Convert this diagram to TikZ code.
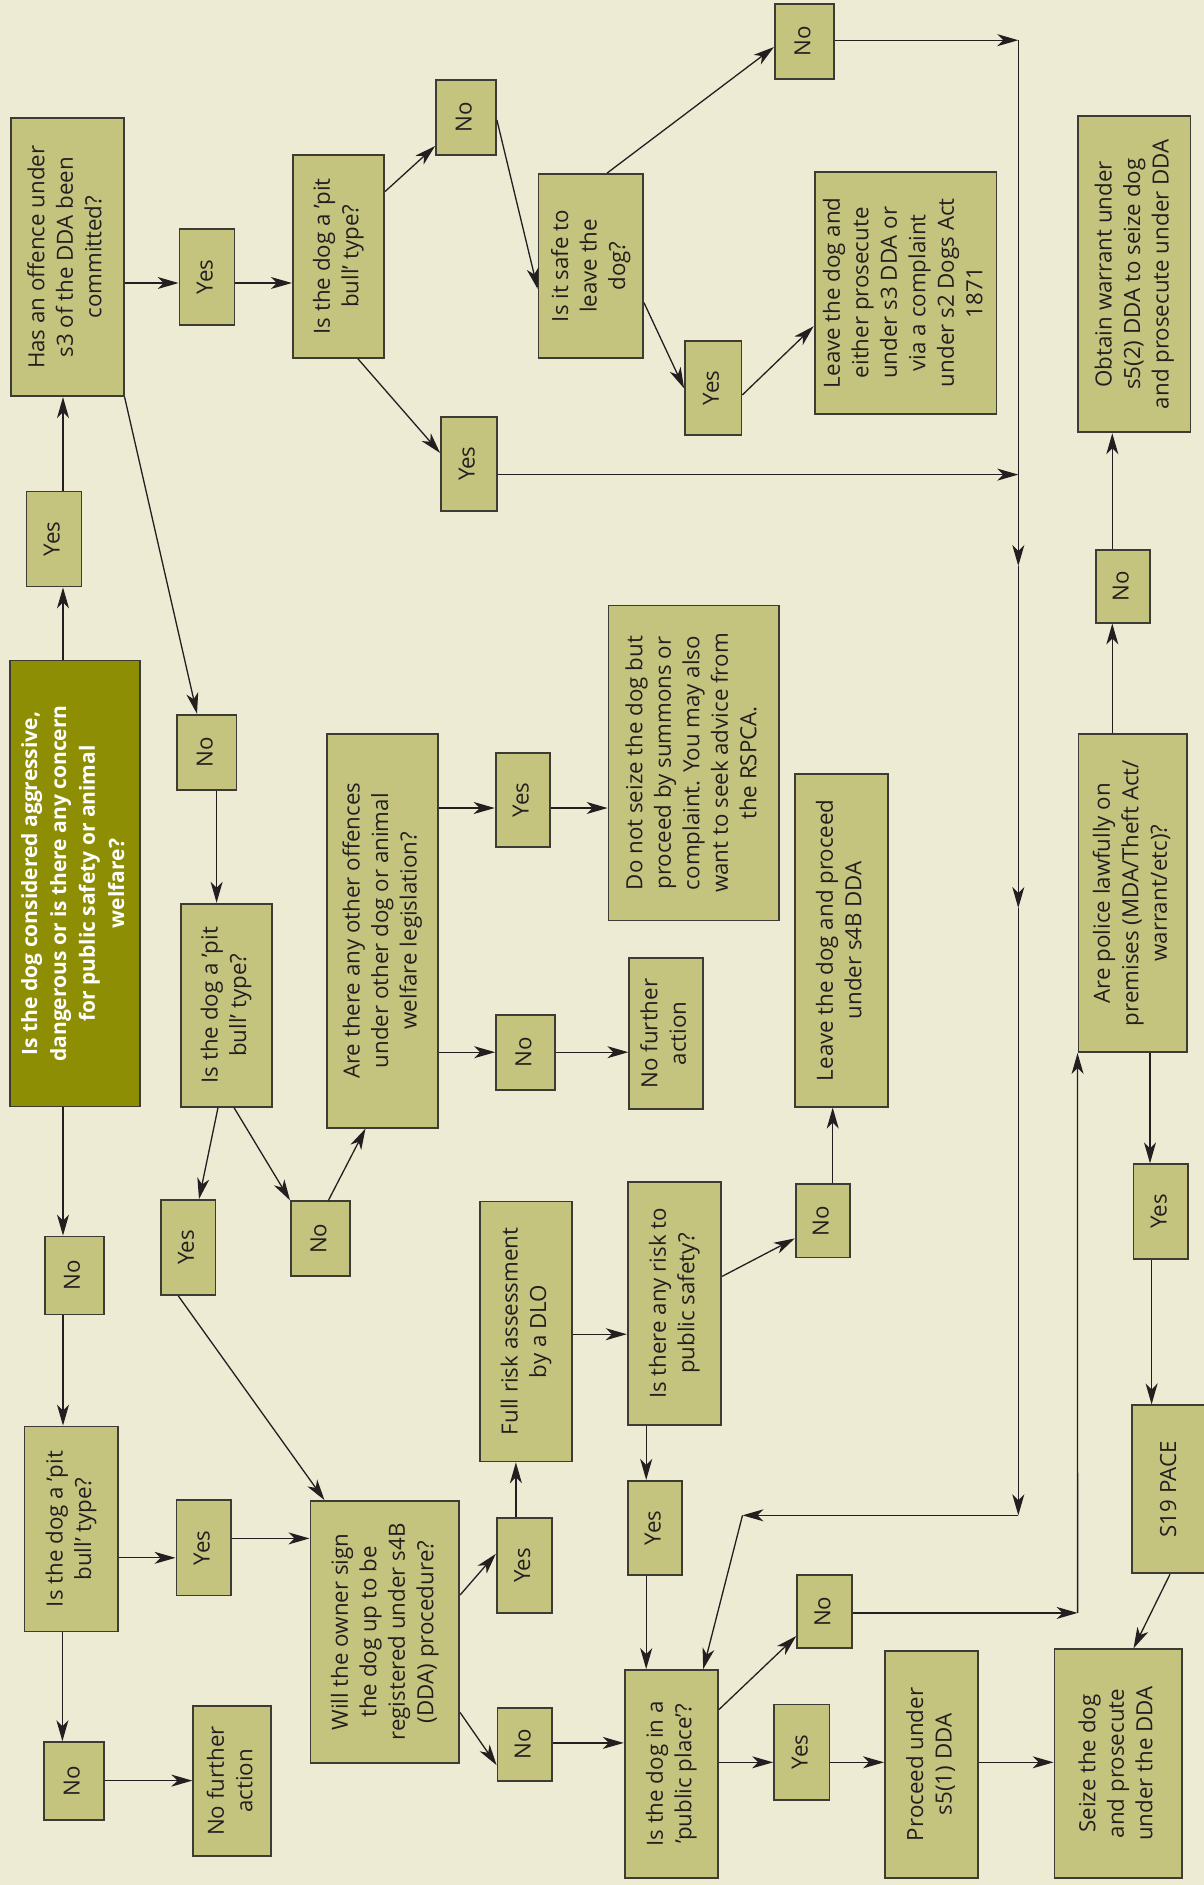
\documentclass[tikz,border=0pt]{standalone}
\usepackage{fontspec}
\setmainfont{Open Sans}
\usepackage{graphicx}
\usetikzlibrary{arrows.meta}
\definecolor{bg}{HTML}{EDEBD4}
\definecolor{boxfill}{HTML}{C5C47E}
\definecolor{mainfill}{HTML}{8E8E05}
\definecolor{edge}{HTML}{3C3C34}
\definecolor{ink}{HTML}{231F20}
\newcommand\rt[1]{\rotatebox{90}{\begin{tabular}{@{}c@{}}#1\end{tabular}}}
\begin{document}
\begin{tikzpicture}[x=1pt,y=-1pt,
  box/.style={draw=edge, line width=1.8pt, fill=boxfill, inner sep=0pt, text=ink,
              font=\fontsize{22.3}{28.5}\selectfont},
  mainbox/.style={box, fill=mainfill, text=white, font=\bfseries\fontsize{21}{29}\selectfont},
  sz/.style 2 args={minimum width=#1pt, minimum height=#2pt},
  arr/.style={draw=ink, line width=1.3pt, -{Stealth[length=21pt,width=12pt,inset=6pt]}}]
\fill[bg] (0,0) rectangle (1204,1885);
\useasboundingbox (0,0) rectangle (1204,1885);

% ---------- nodes ----------
\node[mainbox, sz={130}{446}] (main) at (74.7,883.5) {\rt{Is the dog considered aggressive,\\dangerous or is there any concern\\for public safety or animal\\welfare?}};
\node[box, sz={55}{95}] (yes0) at (54,539) {\rt{Yes}};
\node[box, sz={113}{278}] (offence) at (67.2,257.2) {\rt{Has an offence under\\s3 of the DDA been\\committed?}};
\node[box, sz={55}{96}] (yes1) at (207,277.1) {\rt{Yes}};
\node[box, sz={91.4}{202.7}] (pb1) at (338.5,256.4) {\rt{Is the dog a ’pit\\bull’ type?}};
\node[box, sz={60}{75}] (no1) at (466,117.1) {\rt{No}};
\node[box, sz={56}{94}] (yes2) at (469,463.7) {\rt{Yes}};
\node[box, sz={104.5}{183.7}] (safe) at (590.8,265.9) {\rt{Is it safe to\\leave the\\dog?}};
\node[box, sz={59.3}{75}] (no3) at (804.6,41.3) {\rt{No}};
\node[box, sz={56.4}{94}] (yes3) at (713.2,387.8) {\rt{Yes}};
\node[box, sz={181.8}{242}] (leave1) at (905.5,292.7) {\rt{Leave the dog and\\either prosecute\\under s3 DDA or\\via a complaint\\under s2 Dogs Act\\1871}};
\node[box, sz={112.5}{316.3}] (obtain) at (1134.3,274.2) {\rt{Obtain warrant under\\s5(2) DDA to seize dog\\and prosecute under DDA}};
\node[box, sz={54.3}{73}] (no4) at (1122.9,586.1) {\rt{No}};
\node[box, sz={59.3}{75.5}] (no2) at (206.9,752.5) {\rt{No}};
\node[box, sz={91}{203}] (pb2) at (226.2,1005.2) {\rt{Is the dog a ’pit\\bull’ type?}};
\node[box, sz={111.4}{393.7}] (other) at (382.5,930.8) {\rt{Are there any other offences\\under other dog or animal\\welfare legislation?}};
\node[box, sz={54.7}{94.6}] (yes5) at (523,800) {\rt{Yes}};
\node[box, sz={59.3}{75}] (no5) at (525.7,1052.2) {\rt{No}};
\node[box, sz={170.2}{315}] (donot) at (693.6,763) {\rt{Do not seize the dog but\\proceed by summons or\\complaint. You may also\\want to seek advice from\\the RSPCA.}};
\node[box, sz={73.5}{151}] (nfa1) at (666,1033.5) {\rt{No further\\action}};
\node[box, sz={92.7}{333}] (leave2) at (841.4,940.2) {\rt{Leave the dog and proceed\\under s4B DDA}};
\node[box, sz={108.3}{318}] (police) at (1132.6,893.1) {\rt{Are police lawfully on\\premises (MDA/Theft Act/\\warrant/etc)?}};
\node[box, sz={54.8}{95}] (yes6) at (188.1,1247.5) {\rt{Yes}};
\node[box, sz={59.3}{75}] (no6) at (320.6,1238.8) {\rt{No}};
\node[box, sz={59}{78}] (no7) at (74.3,1275.5) {\rt{No}};
\node[box, sz={91.8}{260}] (fullrisk) at (526.2,1331.4) {\rt{Full risk assessment\\by a DLO}};
\node[box, sz={93.6}{243.3}] (risk) at (674.5,1303.4) {\rt{Is there any risk to\\public safety?}};
\node[box, sz={54.7}{73.2}] (no8) at (823,1220.9) {\rt{No}};
\node[box, sz={54.7}{94.7}] (yes9) at (1160.9,1211.6) {\rt{Yes}};
\node[box, sz={93.4}{205}] (pb3) at (71.2,1529) {\rt{Is the dog a ’pit\\bull’ type?}};
\node[box, sz={54.8}{95.2}] (yes10) at (203.8,1547.9) {\rt{Yes}};
\node[box, sz={148.8}{262}] (will) at (384.8,1632) {\rt{Will the owner sign\\the dog up to be\\registered under s4B\\(DDA) procedure?}};
\node[box, sz={55.5}{95.6}] (yes12) at (524.5,1565.5) {\rt{Yes}};
\node[box, sz={54.7}{73}] (no13) at (524.9,1744.1) {\rt{No}};
\node[box, sz={59.3}{78}] (no11) at (74,1781.1) {\rt{No}};
\node[box, sz={78}{150.7}] (nfa2) at (232.3,1781) {\rt{No further\\action}};
\node[box, sz={54.7}{94.3}] (yes14) at (655,1528) {\rt{Yes}};
\node[box, sz={93.2}{207.8}] (pp) at (671.3,1773.9) {\rt{Is the dog in a\\’public place’?}};
\node[box, sz={55.1}{73}] (no15) at (824.7,1611.7) {\rt{No}};
\node[box, sz={55.5}{95.2}] (yes16) at (801.8,1752) {\rt{Yes}};
\node[box, sz={93.3}{226.8}] (proceed) at (931.6,1764.4) {\rt{Proceed under\\s5(1) DDA}};
\node[box, sz={127.2}{228.5}] (seize) at (1118.1,1763.5) {\rt{Seize the dog\\and prosecute\\under the DDA}};
\node[box, sz={76}{168}] (s19) at (1170.3,1489.3) {\rt{S19 PACE}};

% ---------- junction points ----------
\coordinate (t0) at (1018.3,40.2);
\coordinate (t1) at (1018.3,566);
\coordinate (t2) at (1018.3,908);
\coordinate (t3) at (1018.3,1515.3);
\coordinate (t4) at (742.5,1515.3);
\coordinate (j0) at (1077.6,1612.9);

% ---------- connectors ----------
\draw[arr] (main.north -| 63,0) -- (yes0.south -| 63,0);
\draw[arr] (yes0.north -| 63,0) -- (offence.south -| 63,0);
\draw[arr] (offence.east |- 0,283) -- (yes1.west |- 0,283);
\draw[arr] (yes1.east |- 0,283) -- (pb1.west |- 0,283);
\draw[arr] (pb1.east |- 0,191.5) -- (no1.west |- 0,146);
\draw[arr] (pb1.south -| 357.8,0) -- (yes2.west |- 0,453);
\draw[arr] (no1.east |- 0,120) -- (safe.west |- 0,289);
\draw[arr] (safe.north -| 607,0) -- (no3.west |- 0,47);
\draw[arr] (safe.east |- 0,302.6) -- (yes3.west |- 0,388.4);
\draw[arr] (yes3.east |- 0,395) -- (leave1.west |- 0,326.2);
\draw[arr] (no3.east |- t0) -- (t0);
\draw[arr] (yes2.east |- 0,474.6) -- (t0 |- 0,474.6);
\draw[arr] (t0) -- (t1);
\draw[arr] (t1) -- (t2);
\draw[arr] (t2) -- (t3);
\draw[arr] (t3) -- (t4);
\draw[arr] (t4) -- (pp.north -| 703.2,0);
\draw[arr] (offence.south east) -- (no2.north -| 197,0);
\draw[arr] (no2.south -| 216.6,0) -- (pb2.north -| 216.6,0);
\draw[arr] (pb2.south -| 218,0) -- (yes6.north -| 199,0);
\draw[arr] (pb2.south -| 234,0) -- (no6.north west);
\draw[arr] (no6.north -| 328.4,0) -- (other.south -| 365.5,0);
\draw[arr] (other.east |- 0,808) -- (yes5.west |- 0,808);
\draw[arr] (yes5.east |- 0,808) -- (donot.west |- 0,808);
\draw[arr] (other.east |- 0,1052.2) -- (no5.west |- 0,1052.2);
\draw[arr] (no5.east |- 0,1052.2) -- (nfa1.west |- 0,1052.2);
\draw[arr] (main.south -| 63,0) -- (no7.north -| 63,0);
\draw[arr] (no7.south -| 63,0) -- (pb3.north -| 63,0);
\draw[arr] (pb3.east |- 0,1557.8) -- (yes10.west |- 0,1557.8);
\draw[arr] (yes10.east |- 0,1538.4) -- (will.west |- 0,1538.4);
\draw[arr] (yes6.south -| 178.3,0) -- (will.north -| 324.5,0);
\draw[arr] (pb3.south -| 62.4,0) -- (no11.north -| 62.4,0);
\draw[arr] (no11.east |- 0,1780.6) -- (nfa2.west |- 0,1780.6);
\draw[arr] (will.east |- 0,1595) -- (yes12.west |- 0,1553.8);
\draw[arr] (yes12.north -| 515.9,0) -- (fullrisk.south -| 515.9,0);
\draw[arr] (fullrisk.east |- 0,1334.2) -- (risk.west |- 0,1334.2);
\draw[arr] (risk.east |- 0,1276.3) -- (no8.west |- 0,1238.4);
\draw[arr] (no8.north -| 832.7,0) -- (leave2.south -| 832.7,0);
\draw[arr] (risk.south -| 646.2,0) -- (yes14.north -| 646.2,0);
\draw[arr] (yes14.south -| 646.2,0) -- (pp.north -| 646.2,0);
\draw[arr] (will.east |- 0,1712.5) -- (no13.west |- 0,1765.2);
\draw[arr] (no13.east |- 0,1742.9) -- (pp.west |- 0,1742.9);
\draw[arr] (pp.east |- 0,1709.7) -- (no15.west |- 0,1636);
\draw[arr] (no15.east |- j0) -- (j0);
\draw[arr] (j0) -- (police.south west);
\draw[arr] (police.north -| 1112.3,0) -- (no4.south -| 1112.3,0);
\draw[arr] (no4.north -| 1112.3,0) -- (obtain.south -| 1112.3,0);
\draw[arr] (police.south -| 1150,0) -- (yes9.north -| 1150,0);
\draw[arr] (yes9.south -| 1151.6,0) -- (s19.north -| 1151.6,0);
\draw[arr] (s19.south -| 1170,0) -- (seize.north -| 1133.5,0);
\draw[arr] (pp.east |- 0,1762.3) -- (yes16.west |- 0,1762.3);
\draw[arr] (yes16.east |- 0,1762.3) -- (proceed.west |- 0,1762.3);
\draw[arr] (proceed.east |- 0,1762.3) -- (seize.west |- 0,1762.3);
\end{tikzpicture}
\end{document}
